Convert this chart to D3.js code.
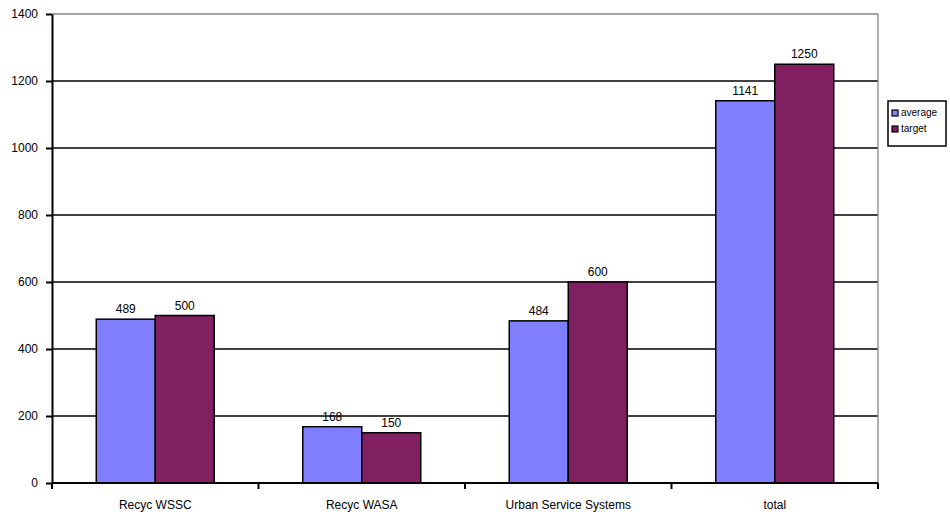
<!DOCTYPE html>
<html>
<head>
<meta charset="utf-8">
<script src="https://cdn.jsdelivr.net/npm/d3@7"></script>
<style>
  body { margin: 0; background: #fff; }
  svg { display: block; font-family: "Liberation Sans", Arial, sans-serif; }
</style>
</head>
<body>
<div id="main"></div>
<script>
const categories = ["Recyc WSSC", "Recyc WASA", "Urban Service Systems", "total"];
const seriesNames = ["average", "target"];
const averageValues = [489, 168, 484, 1141];
const targetValues = [500, 150, 600, 1250];
const yTicks = [0, 200, 400, 600, 800, 1000, 1200, 1400];
const colors = ["#8080ff", "#802060"];

const W = 950, H = 516;
const plot = { left: 52, right: 878, top: 14, bottom: 483 };

const svg = d3.select("#main").append("svg").attr("width", W).attr("height", H);

const y = d3.scaleLinear().domain([0, 1400]).range([plot.bottom, plot.top]);
const x0 = d3.scaleBand().domain(categories).range([plot.left, plot.right]).paddingInner(0).paddingOuter(0);
// gap width 150% -> bar group takes 2/3.5 of the category
const x1 = d3.scaleBand().domain(seriesNames)
  .range([x0.bandwidth() * 0.75 / 3.5, x0.bandwidth() * (0.75 + 2) / 3.5]);

// gridlines (top one is the grey plot border)
svg.append("g")
  .selectAll("line")
  .data(yTicks.filter((d) => d > 0 && d < 1400))
  .join("line")
  .attr("x1", plot.left).attr("x2", plot.right)
  .attr("y1", (d) => y(d)).attr("y2", (d) => y(d))
  .attr("stroke", "#000").attr("stroke-width", 1.3);

// plot border top/right
svg.append("path")
  .attr("d", `M${plot.left},${y(1400)}H${plot.right}V${plot.bottom}`)
  .attr("fill", "none").attr("stroke", "#888").attr("stroke-width", 1.3);

const data = categories.map((c, i) => ({ cat: c, vals: [averageValues[i], targetValues[i]] }));

const groups = svg.append("g").selectAll("g")
  .data(data)
  .join("g")
  .attr("transform", (d) => `translate(${x0(d.cat)},0)`);

groups.selectAll("rect")
  .data((d) => d.vals.map((v, j) => ({ key: seriesNames[j], v, j })))
  .join("rect")
  .attr("x", (d) => x1(d.key))
  .attr("y", (d) => y(d.v))
  .attr("width", x1.bandwidth())
  .attr("height", (d) => y(0) - y(d.v))
  .attr("fill", (d) => colors[d.j])
  .attr("stroke", "#000").attr("stroke-width", 1.5);

groups.selectAll("text")
  .data((d) => d.vals.map((v, j) => ({ key: seriesNames[j], v })))
  .join("text")
  .attr("x", (d) => x1(d.key) + x1.bandwidth() / 2)
  .attr("y", (d) => y(d.v) - 6)
  .attr("text-anchor", "middle")
  .attr("font-size", 12)
  .text((d) => d.v);

// y axis
const yAxis = svg.append("g")
  .attr("transform", `translate(${plot.left},0)`)
  .call(d3.axisLeft(y).tickValues(yTicks).tickFormat(d3.format("d"))
    .tickSize(6).tickPadding(8).tickSizeOuter(0));
yAxis.select(".domain").attr("stroke", "#000").attr("stroke-width", 2);
yAxis.selectAll(".tick line").attr("stroke", "#000").attr("stroke-width", 2);
yAxis.selectAll("text").attr("font-size", 12).attr("fill", "#000")
  .attr("font-family", "Liberation Sans, Arial, sans-serif");

// x axis: ticks at category boundaries
const xAxisG = svg.append("g").attr("transform", `translate(0,${plot.bottom})`);
xAxisG.append("line")
  .attr("x1", plot.left).attr("x2", plot.right)
  .attr("stroke", "#000").attr("stroke-width", 2);
xAxisG.selectAll(".bt")
  .data(categories.map((c) => x0(c)).concat([plot.right]))
  .join("line")
  .attr("class", "bt")
  .attr("x1", (d) => d).attr("x2", (d) => d)
  .attr("y1", 0).attr("y2", 6)
  .attr("stroke", "#000").attr("stroke-width", 2);
xAxisG.selectAll("text")
  .data(categories)
  .join("text")
  .attr("x", (d) => x0(d) + x0.bandwidth() / 2)
  .attr("y", 26)
  .attr("text-anchor", "middle")
  .attr("font-size", 12)
  .text((d) => d);

// legend
const legend = svg.append("g").attr("transform", "translate(888,101)");
legend.append("rect")
  .attr("width", 58).attr("height", 45)
  .attr("fill", "#fff").attr("stroke", "#000").attr("stroke-width", 1.5);
const items = legend.selectAll("g.item")
  .data(seriesNames)
  .join("g")
  .attr("class", "item")
  .attr("transform", (d, i) => `translate(4,${15 + i * 16})`);
items.append("rect")
  .attr("x", 0).attr("y", -6)
  .attr("width", 6).attr("height", 6)
  .attr("fill", (d, i) => colors[i])
  .attr("stroke", "#000").attr("stroke-width", 1.2);
items.append("text")
  .attr("x", 9).attr("y", 0)
  .attr("font-size", 10)
  .text((d) => d);
</script>
</body>
</html>
